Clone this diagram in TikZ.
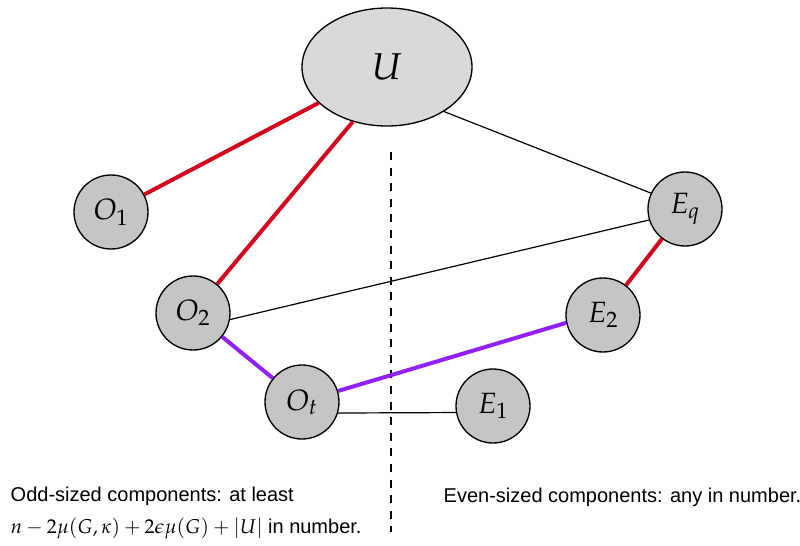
\documentclass[tikz,border=0pt]{standalone}
\usepackage{mathpazo}
\usepackage[no-math]{fontspec}
\setmainfont{Liberation Sans}
\usetikzlibrary{shapes.geometric}
\definecolor{matchred}{RGB}{210,4,30}
\definecolor{pathpurple}{RGB}{146,32,250}
\definecolor{compgray}{RGB}{197,197,197}
\definecolor{setgray}{RGB}{217,217,217}
\begin{document}
\begin{tikzpicture}[x=0.75pt,y=-0.75pt,
                comp node/.style={circle,draw,line width=1pt,fill=compgray,minimum size=55.5pt,inner sep=0pt,font=\fontsize{22}{22}\selectfont},
                set node/.style={ellipse,draw,line width=1pt,fill=setgray,minimum width=127.5pt,minimum height=88.5pt,font=\fontsize{28}{28}\selectfont},
                match edge/.style={line width=3pt,matchred},
                path edge/.style={line width=3pt,pathpurple},
                plain edge/.style={line width=0.9pt,black},
                note/.style={anchor=west,font=\fontsize{15}{23.3}\selectfont}]

    \useasboundingbox (0,0) rectangle (800,546);

    \node[set node] (U) at (387,67) {$U$};
    \node[comp node] (O1) at (111,212) {$O_1$};
    \node[comp node] (O2) at (193,313) {$O_2$};
    \node[comp node] (Ot) at (302,402) {$O_t$};
    \node[comp node] (E1) at (493,406) {$E_1$};
    \node[comp node] (E2) at (603,315) {$E_2$};
    \node[comp node] (Eq) at (685,209) {$E_q$};

    \coordinate (cut top) at (391,152);
    \coordinate (cut bot) at (391,532);
    \draw[line width=1pt,dash pattern=on 6pt off 5.7pt] (cut top) -- (cut bot);

    \path
    (O1) edge [match edge] (U);
    \path
    (O2) edge [match edge] (U.-122);
    \path
    (Eq) edge [match edge] (E2);
    \path
    (O2) edge [path edge] (Ot);
    \path
    (Ot.17) edge [path edge] (E2.-168);
    \path
    (U.-38) edge [plain edge] (Eq.155);
    \path
    (O2.-10) edge [plain edge] (Eq.197);
    \path
    (Ot.-17) edge [plain edge] (E1.-170);

    \node[note,align=left] (odd) at (6,513)
        {Odd-sized components: at least\\ $n-2\mu(G,\kappa)+2\epsilon\mu(G)+|U|$ in number.};
    \node[note] (even) at (439,497)
        {Even-sized components: any in number.};

\end{tikzpicture}
\end{document}
